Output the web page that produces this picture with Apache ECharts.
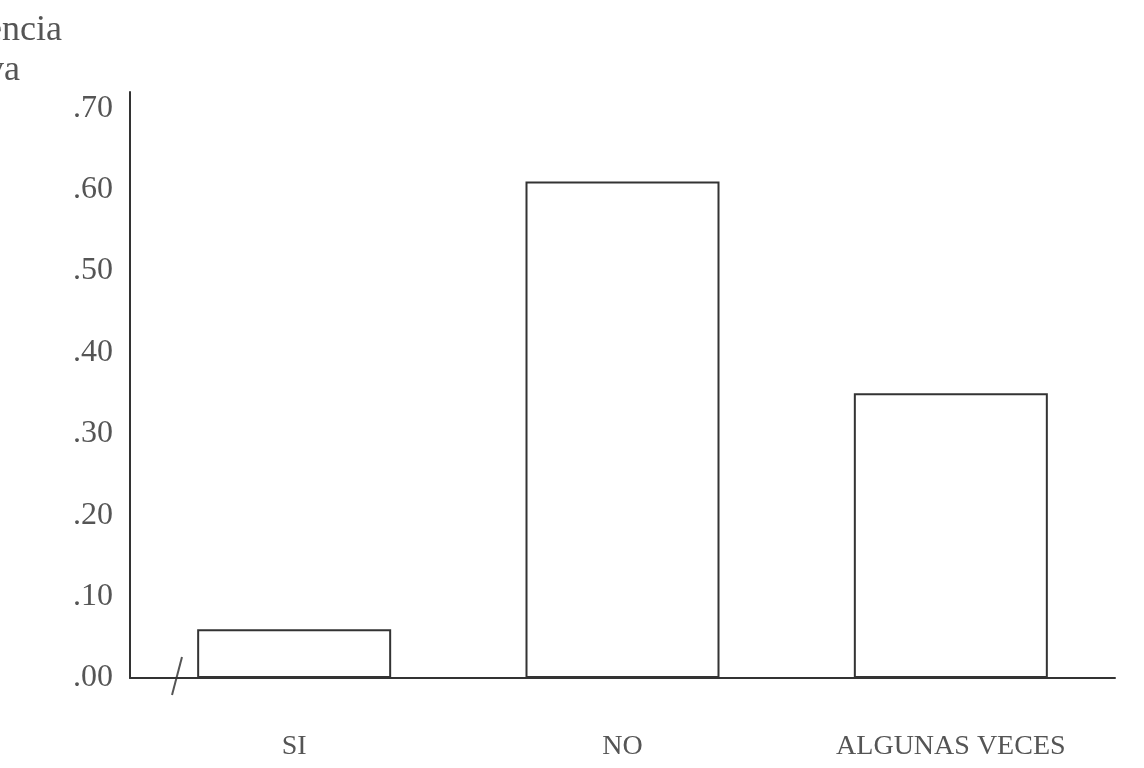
<!DOCTYPE html>
<html>
<head>
<meta charset="utf-8">
<script src="https://cdn.jsdelivr.net/npm/echarts@6/dist/echarts.min.js"></script>
<style>
html,body{margin:0;padding:0;background:#fff;}
#chart{width:1144px;height:768px;}
</style>
</head>
<body>
<div id="chart"></div>
<script>
const categories = ['SI', 'NO', 'ALGUNAS VECES'];
const values = [0.06, 0.61, 0.35];
const yTickLabels = ['.00', '.10', '.20', '.30', '.40', '.50', '.60', '.70'];
const yAxisTitleLines = ['Frecuencia', 'relativa'];

const serif = '"Liberation Serif", "DejaVu Serif", serif';
const chart = echarts.init(document.getElementById('chart'));
chart.setOption({
  backgroundColor: '#ffffff',
  animation: false,
  title: {
    text: '{a|' + yAxisTitleLines[0] + '}\n{b|' + yAxisTitleLines[1] + '}',
    left: -101,
    top: 6,
    textStyle: {
      fontFamily: serif, fontSize: 36, fontWeight: 'normal', color: '#555',
      rich: {
        a: { fontFamily: serif, fontSize: 36, color: '#555', lineHeight: 40 },
        b: { fontFamily: serif, fontSize: 36, color: '#555', lineHeight: 40, padding: [0, 0, 0, 8] }
      }
    }
  },
  grid: { left: 130, right: 29, top: 92, bottom: 90, containLabel: false },
  xAxis: {
    type: 'category',
    data: categories,
    axisLine: { lineStyle: { color: '#333', width: 2 } },
    axisTick: { show: false },
    axisLabel: { margin: 55, fontFamily: serif, fontSize: 28, color: '#555' }
  },
  yAxis: {
    type: 'value',
    min: 0,
    max: 0.72,
    interval: 0.1,
    splitLine: { show: false },
    axisTick: { show: false },
    axisLine: { show: true, lineStyle: { color: '#333', width: 2 } },
    axisLabel: {
      margin: 17,
      showMaxLabel: false,
      fontFamily: serif,
      fontSize: 32,
      color: '#555',
      formatter: function (v) {
        const i = Math.round(v * 10);
        return yTickLabels[i] !== undefined && Math.abs(v * 10 - i) < 1e-6 ? yTickLabels[i] : '';
      }
    }
  },
  series: [{
    type: 'bar',
    data: values,
    barWidth: 194,
    itemStyle: { color: '#ffffff', borderColor: '#333', borderWidth: 2 }
  }],
  graphic: [{
    type: 'line',
    shape: { x1: 182, y1: 657, x2: 172, y2: 695 },
    style: { stroke: '#555', lineWidth: 2 }
  }]
});
</script>
</body>
</html>
